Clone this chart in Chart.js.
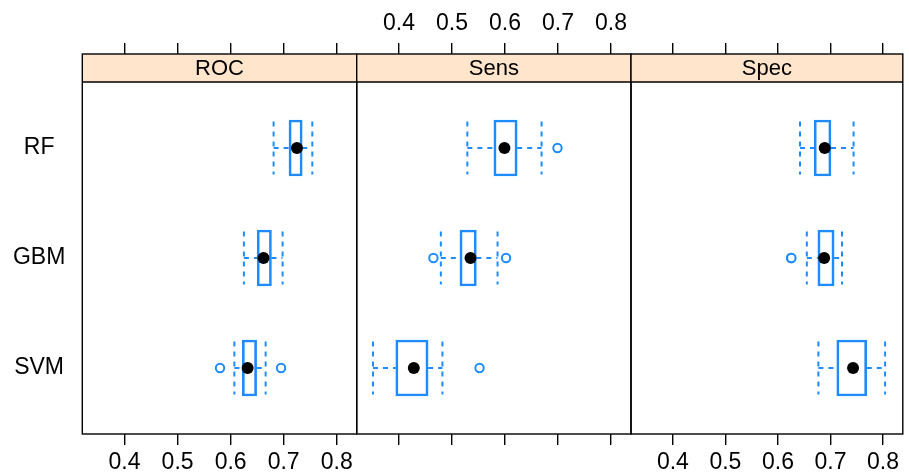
<!DOCTYPE html>
<html>
<head>
<meta charset="utf-8">
<script src="https://cdn.jsdelivr.net/npm/chart.js@4.4.1/dist/chart.umd.min.js"></script>
<style>
  html, body { margin: 0; padding: 0; background: #fff; }
  #wrap { position: relative; width: 909px; height: 475px; }
  #wrap canvas { position: absolute; left: 0; top: 0; }
</style>
</head>
<body>
<div id="wrap">
  <canvas id="c0" width="909" height="475"></canvas>
  <canvas id="c1" width="909" height="475"></canvas>
  <canvas id="c2" width="909" height="475"></canvas>
</div>
<script>
// Panels and models (models listed top to bottom)
const PANELS = ['ROC', 'Sens', 'Spec'];
const MODELS = ['RF', 'GBM', 'SVM'];
const MODEL_POS = [3, 2, 1];
const X_TICKS = [0.4, 0.5, 0.6, 0.7, 0.8];

// ROC: whisker low, Q1, median, Q3, whisker high, outliers (RF, GBM, SVM)
const ROC_LOW = [0.681, 0.625, 0.607];
const ROC_Q1 = [0.710, 0.650, 0.622];
const ROC_MED = [0.725, 0.662, 0.632];
const ROC_Q3 = [0.735, 0.677, 0.649];
const ROC_HIGH = [0.754, 0.698, 0.666];
const ROC_OUT = [[], [], [0.580, 0.695]];

// Sens
const SENS_LOW = [0.529, 0.479, 0.351];
const SENS_Q1 = [0.579, 0.515, 0.394];
const SENS_MED = [0.599, 0.535, 0.428];
const SENS_Q3 = [0.623, 0.546, 0.455];
const SENS_HIGH = [0.669, 0.586, 0.482];
const SENS_OUT = [[0.699], [0.465, 0.602], [0.552]];

// Spec
const SPEC_LOW = [0.642, 0.655, 0.677];
const SPEC_Q1 = [0.669, 0.676, 0.712];
const SPEC_MED = [0.689, 0.688, 0.743];
const SPEC_Q3 = [0.701, 0.707, 0.769];
const SPEC_HIGH = [0.744, 0.722, 0.804];
const SPEC_OUT = [[], [0.6250, 0.6255], []];

const BLUE = '#1e8cff';
const FONT = '"Liberation Sans", Arial, sans-serif';
const STRIP_BG = '#ffe5cc';
const STRIP_H = 28;
const X_MIN = 0.3203, X_MAX = 0.8377;
const Y_MIN = 0.4, Y_MAX = 3.6 + 3.2 * STRIP_H / 352;
const CAP = 0.24;

const PANEL_LEFT = [82.3, 356.7, 631];
const PANEL_RIGHT = [356.7, 631, 904.3];

// Strip on top of each panel plus the frame
const panelPlugin = {
    id: 'panelFrame',
    beforeDatasetsDraw: (chart, args, opts) => {
        const {ctx, chartArea: a} = chart;
        ctx.save();
        ctx.fillStyle = STRIP_BG;
        ctx.fillRect(a.left, a.top, a.right - a.left, STRIP_H);
        ctx.fillStyle = '#000';
        ctx.font = '22px ' + FONT;
        ctx.textAlign = 'center';
        ctx.textBaseline = 'middle';
        ctx.fillText(opts.label, (a.left + a.right) / 2, a.top + STRIP_H / 2 + 1);
        ctx.restore();
    },
    afterDatasetsDraw: (chart) => {
        const {ctx, chartArea: a} = chart;
        ctx.save();
        ctx.strokeStyle = '#000';
        ctx.lineWidth = 1.4;
        ctx.strokeRect(a.left, a.top, a.right - a.left, a.bottom - a.top);
        ctx.beginPath();
        ctx.moveTo(a.left, a.top + STRIP_H);
        ctx.lineTo(a.right, a.top + STRIP_H);
        ctx.stroke();
        ctx.restore();
    }
};

function gap() { return {x: null, y: null}; }

function makePanel(i, lo, q1, med, q3, hi, outs) {
    const boxData = MODEL_POS.map((y, k) => ({x: [q1[k], q3[k]], y}));
    const whiskers = [];
    const caps = [];
    MODEL_POS.forEach((y, k) => {
        whiskers.push({x: lo[k], y}, {x: q1[k], y}, gap(), {x: q3[k], y}, {x: hi[k], y}, gap());
        [lo[k], hi[k]].forEach(v => caps.push({x: v, y: y + CAP}, {x: v, y: y - CAP}, gap()));
    });
    const medData = MODEL_POS.map((y, k) => ({x: med[k], y}));
    const outData = [];
    outs.forEach((arr, k) => arr.forEach(v => outData.push({x: v, y: MODEL_POS[k]})));

    const showBottom = i !== 1;
    const showTop = i === 1;

    const xAxis = (pos, show, h, pad) => ({
        type: 'linear',
        position: pos,
        min: X_MIN,
        max: X_MAX,
        offset: false,
        afterBuildTicks: s => { s.ticks = X_TICKS.map(v => ({value: v})); },
        afterFit: s => { s.height = h; },
        grid: { display: true, drawOnChartArea: false, drawTicks: true, tickLength: 11, color: '#000', lineWidth: 1.4 },
        border: { display: false },
        ticks: {
            color: '#000',
            font: { family: FONT, size: 23 },
            padding: pad,
            autoSkip: false,
            maxRotation: 0,
            callback: v => show ? v.toFixed(1) : ''
        }
    });

    const lineStyle = {
        type: 'line',
        xAxisID: 'x',
        yAxisID: 'y',
        borderColor: BLUE,
        borderWidth: 2,
        borderDash: [5, 5],
        pointRadius: 0,
        spanGaps: false,
        fill: false,
        tension: 0,
        order: 2
    };

    const yAxis = {
        type: 'linear',
        display: i === 0,
        min: Y_MIN,
        max: Y_MAX,
        offset: false,
        afterBuildTicks: s => { s.ticks = MODEL_POS.map(v => ({value: v})); },
        grid: { display: false, drawTicks: false, offset: false },
        border: { display: false },
        ticks: {
            crossAlign: 'center',
            padding: 17,
            color: '#000',
            font: { family: FONT, size: 23 },
            callback: v => MODELS[MODEL_POS.indexOf(v)]
        }
    };
    if (i === 0) yAxis.afterFit = s => { s.width = PANEL_LEFT[0]; };

    return new Chart(document.getElementById('c' + i), {
        data: {
            datasets: [
                Object.assign({label: 'whiskers', data: whiskers}, lineStyle),
                Object.assign({label: 'caps', data: caps}, lineStyle),
                {
                    type: 'bar',
                    label: 'box',
                    indexAxis: 'y',
                    xAxisID: 'x',
                    yAxisID: 'y',
                    data: boxData,
                    barThickness: 56,
                    grouped: false,
                    backgroundColor: 'rgba(0,0,0,0)',
                    borderColor: BLUE,
                    borderWidth: 2,
                    borderSkipped: false,
                    order: 3
                },
                {
                    type: 'scatter',
                    label: 'outliers',
                    xAxisID: 'x',
                    yAxisID: 'y',
                    data: outData,
                    pointRadius: 4.2,
                    pointBorderWidth: 2,
                    borderColor: BLUE,
                    backgroundColor: '#fff',
                    order: 1
                },
                {
                    type: 'scatter',
                    label: 'median',
                    xAxisID: 'x',
                    yAxisID: 'y',
                    data: medData,
                    pointRadius: 6,
                    borderWidth: 0,
                    backgroundColor: '#000',
                    borderColor: '#000',
                    order: 0
                }
            ]
        },
        options: {
            responsive: false,
            animation: false,
            layout: {
                padding: {
                    left: i === 0 ? 0 : PANEL_LEFT[i],
                    right: 909 - PANEL_RIGHT[i],
                    top: 0,
                    bottom: 0
                }
            },
            scales: {
                x: xAxis('bottom', showBottom, 41, 4),
                x2: xAxis('top', showTop, 54, 6),
                y: yAxis
            },
            plugins: {
                legend: { display: false },
                tooltip: { enabled: false },
                panelFrame: { label: PANELS[i] }
            }
        },
        plugins: [panelPlugin]
    });
}

makePanel(0, ROC_LOW, ROC_Q1, ROC_MED, ROC_Q3, ROC_HIGH, ROC_OUT);
makePanel(1, SENS_LOW, SENS_Q1, SENS_MED, SENS_Q3, SENS_HIGH, SENS_OUT);
makePanel(2, SPEC_LOW, SPEC_Q1, SPEC_MED, SPEC_Q3, SPEC_HIGH, SPEC_OUT);
</script>
</body>
</html>
